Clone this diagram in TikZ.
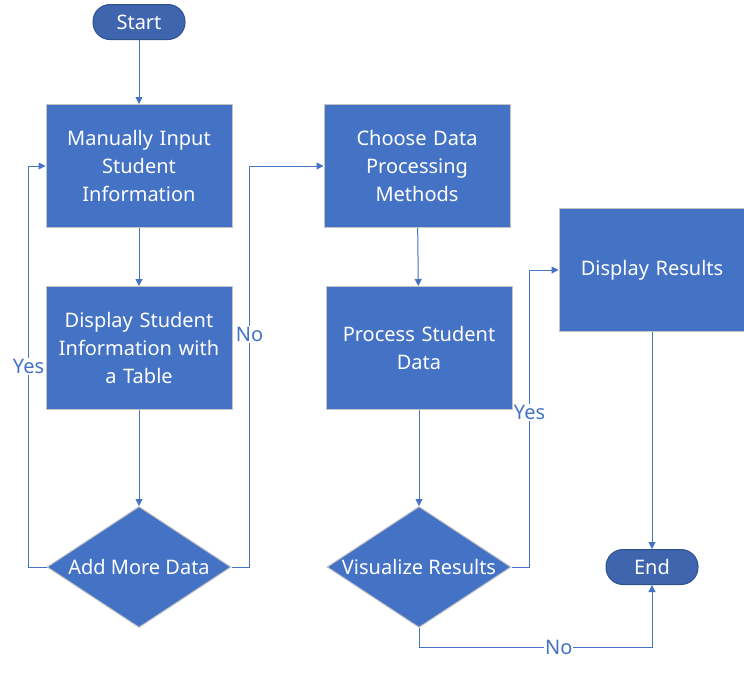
\documentclass[tikz,border=0pt]{standalone}
\usepackage{fontspec}
\setmainfont{Noto Sans}
\usetikzlibrary{shapes.geometric,arrows.meta}
\definecolor{boxblue}{HTML}{4472C4}
\definecolor{termblue}{HTML}{3F65AE}
\definecolor{termedge}{HTML}{2F528F}
\definecolor{edgegray}{HTML}{C4C4C4}

\begin{document}
\begin{tikzpicture}[
  x=1pt, y=-1pt,
  every node/.style={font=\fontsize{20}{28}\selectfont},
  proc/.style={draw=edgegray, line width=1pt, fill=boxblue, text=white,
               minimum width=186pt, minimum height=123pt, text width=180pt,
               align=center, inner sep=0pt},
  term/.style={draw=termedge, line width=1pt, fill=termblue, text=white,
               rounded corners=17pt, minimum width=92pt, minimum height=35pt,
               inner sep=0pt},
  decide/.style={draw=edgegray, line width=1pt, fill=boxblue, text=white,
                 diamond, minimum width=184pt, minimum height=121pt,
                 inner sep=0pt},
  flow/.style={draw=boxblue, line width=1pt,
               -{Triangle[width=7pt,length=7pt]}},
  lbl/.style={text=boxblue, fill=white, inner sep=1pt},
]
\useasboundingbox (0,0) rectangle (744,672);

%% ── Left column ──────────────────────────────────────────────────────────────
\node[term] (start) at (139, 22) {Start};
\node[proc] (input) at (139, 166) {Manually Input\\Student\\Information};
\node[proc] (show) at (139, 348) {Display Student\\Information with\\a Table};
\node[decide] (more) at (139, 567) {\makebox[0pt]{Add More Data}};

%% ── Middle column ────────────────────────────────────────────────────────────
\node[proc] (choose) at (417, 166) {Choose Data\\Processing\\Methods};
\node[proc] (process) at (419, 348) {Process Student\\Data};
\node[decide] (visual) at (419, 567) {\makebox[0pt]{Visualize Results}};

%% ── Right column ─────────────────────────────────────────────────────────────
\node[proc] (result) at (652, 270) {Display Results};
\node[term] (end) at (652, 567) {End};

%% ── Connectors ───────────────────────────────────────────────────────────────
\draw[flow] (start) -- (input);
\draw[flow] (input) -- (show);
\draw[flow] (show) -- (more);
\draw[flow] (more.west) -- ++(-18, 0) |- node[lbl, pos=0.25] {Yes} (input.west);
\draw[flow] (more.east) -- ++(18, 0) |- node[lbl, pos=0.29] {No} (choose.west);

\draw[flow] (choose) -- (process);
\draw[flow] (process) -- (visual);
\draw[flow] (visual.east) -- ++(18, 0) |- node[lbl, pos=0.26] {Yes} (result.west);
\draw[flow] (visual.south) -- ++(0, 19) -| node[lbl, pos=0.30] {No} (end.south);

\draw[flow] (result) -- (end);

\end{tikzpicture}
\end{document}
